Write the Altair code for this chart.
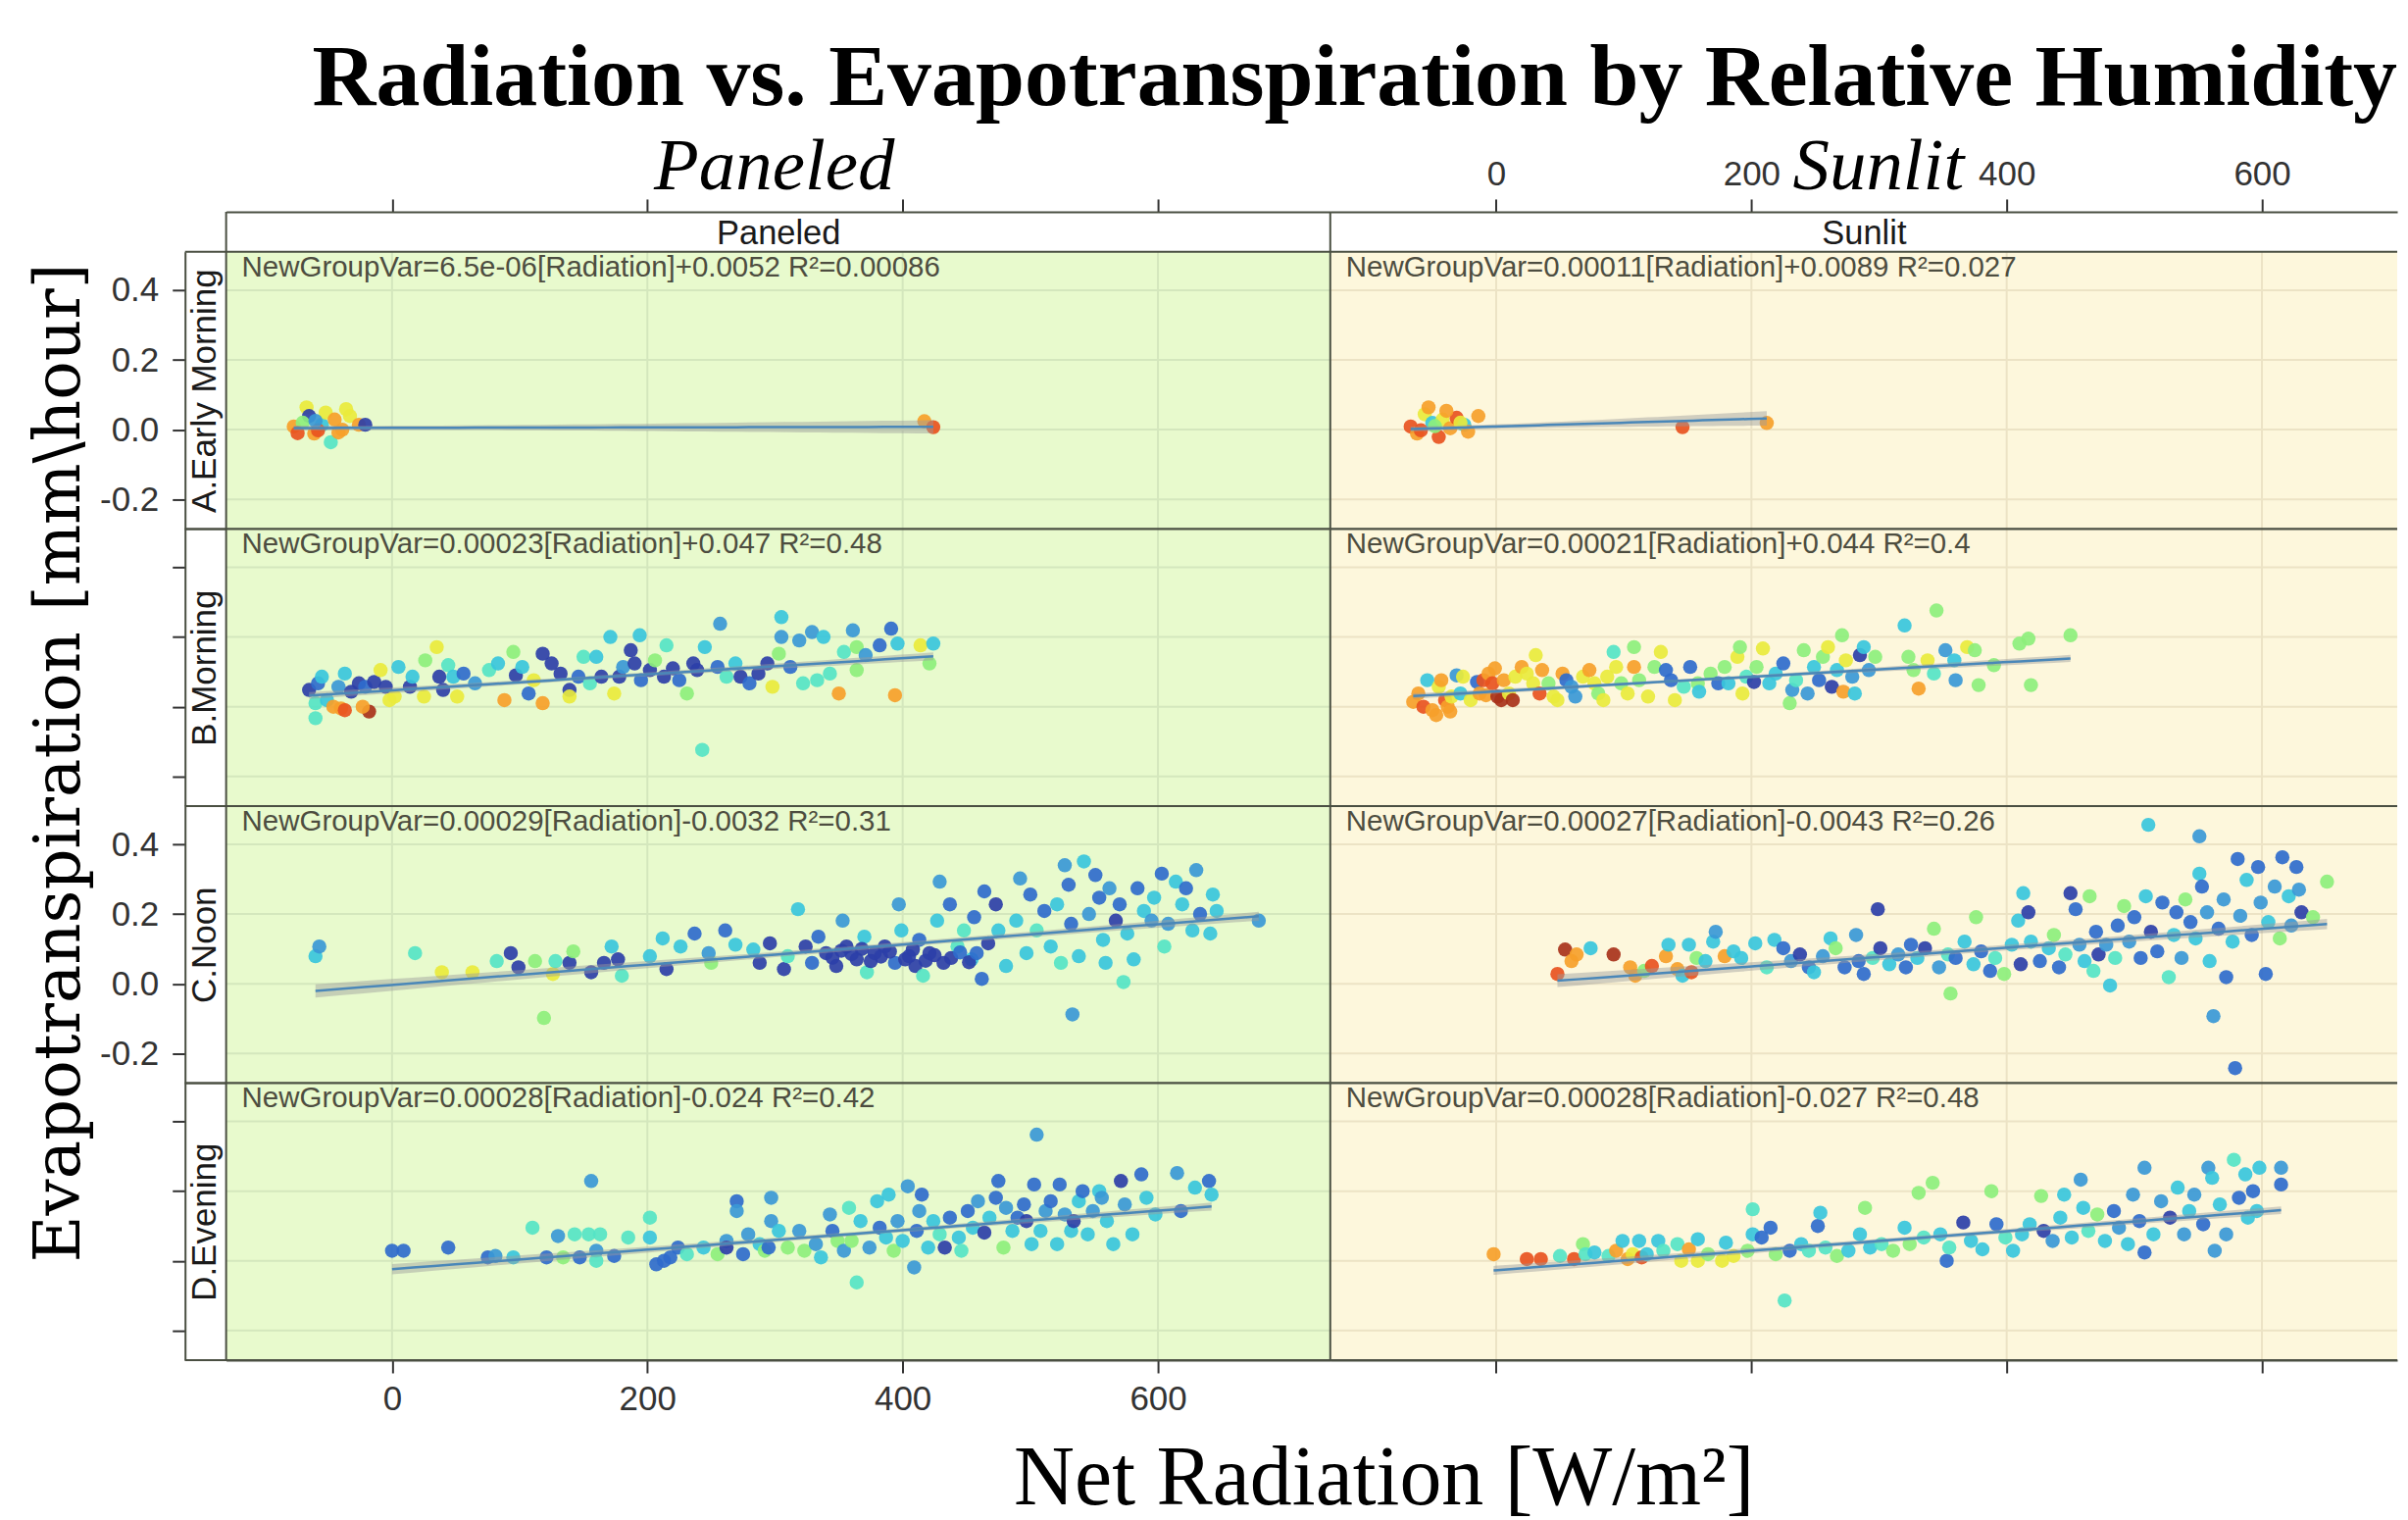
import altair as alt
import numpy as np
import pandas as pd

# ---------------- text ----------------
TITLE = "Radiation vs. Evapotranspiration by Relative Humidity"
X_TITLE = "Net Radiation [W/m²]"
Y_TITLE = "Evapotranspiration [mm\\hour]"
COLUMNS = ["Paneled", "Sunlit"]
ROWS = ["A.Early Morning", "B.Morning", "C.Noon", "D.Evening"]
X_TICKS = [0, 200, 400, 600]
Y_TICKS = [-0.2, 0.0, 0.2, 0.4]

# regression coefficients shown in each panel  [row][column]
SLOPES = [[6.5e-06, 0.00011], [0.00023, 0.00021], [0.00029, 0.00027], [0.00028, 0.00028]]
INTERCEPTS = [[0.0052, 0.0089], [0.047, 0.044], [-0.0032, -0.0043], [-0.024, -0.027]]
R2 = [[0.00086, 0.027], [0.48, 0.4], [0.31, 0.26], [0.42, 0.48]]
# each plotted dot stands for several overplotted observations
OBS_PER_DOT = 4

# relative humidity colour stops (jet-like)
RH_STOPS = [35, 40, 45, 50, 55, 62, 70, 78, 85, 92]
JET = ["#2c3fa8", "#2f6bcc", "#3a98d6", "#38c5dc", "#55e4c6",
       "#8def7c", "#e9ea3c", "#f6a02a", "#e8521f", "#a8321a"]

# ---------------- data: (net radiation, evapotranspiration, relative humidity) ----------------
A_PANELED = [(-77, .009, 78), (-67, .064, 70), (-65, .039, 35), (-61, -.011, 78), (-55, .014, 50),
             (-52, .049, 70), (-48, -.036, 55), (-45, .029, 78), (-39, 0, 78), (-33, .039, 70),
             (-26, .014, 78), (-21, .014, 35), (-70, .02, 62), (-58, -.002, 85), (-36, .059, 70),
             (-74, -.01, 85), (-42, -.008, 78), (-60, .025, 45), (417, .024, 78), (424, .007, 85)]

A_SUNLIT = [(-67, .009, 85), (-62, -.011, 78), (-56, .044, 70), (-53, .064, 78), (-50, .019, 50),
            (-45, -.021, 85), (-42, .029, 70), (-36, .004, 78), (-31, .034, 85), (-25, .014, 50),
            (-22, -.006, 78), (-14, .039, 78), (-59, -.002, 85), (-39, .054, 78), (-48, .01, 62),
            (-28, .02, 70), (146, .007, 85), (212, .019, 78)]

B_PANELED = [(-65, .048, 35), (-58, .067, 40), (-55, .086, 50), (-60, .010, 55), (-60, -.033, 55),
             (-51, .019, 50), (-46, 0, 78), (-40, -.005, 78), (-37, -.010, 85), (-42, .057, 45),
             (-37, .095, 50), (-32, .043, 35), (-26, .067, 35), (-21, .057, 40), (-18, -.014, 92),
             (-14, .071, 35), (-23, 0, 78), (-9, .105, 70), (-5, .057, 35), (-2, .019, 70),
             (5, .114, 50), (2, .029, 70), (14, .057, 35), (16, .086, 50), (26, .133, 62),
             (25, .029, 70), (35, .171, 70), (37, .086, 35), (40, .048, 35), (44, .119, 55),
             (48, .086, 50), (51, .029, 70), (56, .095, 40), (65, .067, 45), (76, .105, 55),
             (83, .124, 50), (88, .019, 78), (95, .157, 62), (97, .090, 35), (102, .114, 50),
             (107, .038, 40), (111, .076, 70), (118, .010, 78), (118, .152, 35), (125, .124, 35),
             (132, .095, 35), (139, .048, 35), (139, .029, 70), (146, .086, 40), (150, .143, 55),
             (155, .067, 55), (160, .143, 50), (164, .086, 35), (171, .2, 50), (174, .038, 70),
             (178, .086, 35), (181, .114, 45), (187, .162, 35), (190, .124, 35), (194, .205, 50),
             (195, .076, 40), (202, .105, 35), (206, .133, 62), (213, .086, 35), (215, .176, 55),
             (220, .110, 35), (225, .076, 40), (231, .038, 62), (236, .124, 35), (239, .105, 35),
             (245, .171, 50), (243, -.124, 55), (255, .114, 40), (257, .238, 45), (262, .086, 55),
             (269, .124, 50), (273, .086, 35), (280, .067, 40), (287, .095, 35), (294, .124, 35),
             (298, .057, 70), (303, .152, 62), (305, .2, 45), (305, .257, 50), (312, .114, 40),
             (319, .190, 45), (322, .067, 55), (329, .214, 45), (333, .076, 55), (338, .2, 50),
             (343, .095, 55), (350, .038, 78), (354, .157, 55), (361, .219, 45), (364, .171, 62),
             (364, .105, 62), (371, .148, 45), (382, .176, 40), (391, .224, 40), (396, .181, 50),
             (394, .033, 78), (414, .176, 70), (424, .181, 50), (421, .124, 62)]

B_SUNLIT = [(-65, .014, 78), (-61, .038, 78), (-57, 0, 85), (-54, .076, 50), (-50, -.010, 78),
            (-47, -.024, 78), (-45, .057, 70), (-43, .076, 78), (-40, .019, 85), (-38, 0, 78),
            (-36, -.014, 78), (-35, .029, 70), (-31, .090, 45), (-28, .038, 50), (-26, .086, 70),
            (-20, .019, 70), (-15, .071, 40), (-13, .038, 78), (-10, .076, 85), (-8, .033, 78),
            (-6, .095, 78), (-3, .067, 85), (-1, .110, 78), (1, .029, 92), (4, .019, 92),
            (6, .076, 78), (10, .038, 70), (13, .019, 92), (15, .086, 70), (20, .114, 78),
            (24, .095, 70), (29, .067, 70), (31, .148, 70), (34, .038, 85), (36, .105, 78),
            (41, .067, 62), (45, .029, 70), (48, .019, 70), (52, .095, 78), (55, .076, 40),
            (59, .057, 45), (62, .029, 45), (68, .086, 70), (73, .105, 78), (77, .067, 70),
            (80, .038, 62), (84, .019, 70), (87, .086, 70), (92, .157, 55), (94, .114, 70),
            (98, .067, 62), (103, .038, 70), (108, .171, 62), (108, .114, 78), (112, .076, 62),
            (119, .029, 70), (124, .114, 62), (129, .157, 70), (133, .105, 40), (137, .076, 40),
            (140, .019, 70), (147, .057, 55), (152, .114, 40), (158, .067, 62), (159, .043, 50),
            (168, .095, 62), (174, .067, 40), (179, .114, 62), (182, .067, 50), (189, .143, 70),
            (191, .171, 62), (193, .038, 70), (196, .086, 55), (202, .071, 35), (204, .114, 62),
            (209, .167, 70), (214, .067, 50), (219, .095, 50), (225, .124, 40), (230, .010, 62),
            (232, .048, 45), (235, .076, 55), (241, .162, 62), (244, .038, 45), (249, .114, 50),
            (253, .076, 40), (256, .143, 62), (260, .171, 70), (263, .057, 35), (267, .105, 50),
            (271, .205, 62), (272, .043, 78), (274, .133, 70), (279, .086, 45), (281, .038, 50),
            (285, .148, 35), (288, .171, 50), (292, .105, 45), (297, .143, 62), (320, .233, 50),
            (323, .143, 62), (327, .105, 62), (331, .052, 78), (338, .133, 70), (343, .095, 55),
            (345, .276, 62), (352, .162, 45), (359, .133, 50), (360, .076, 45), (369, .171, 70),
            (375, .162, 62), (378, .062, 62), (390, .119, 62), (410, .181, 62), (417, .195, 62),
            (419, .062, 62), (450, .205, 62)]

C_PANELED = [(-60, .079, 50), (-57, .107, 45), (18, .088, 55), (39, .033, 70), (63, .033, 70),
             (82, .065, 55), (93, .088, 35), (99, .047, 35), (112, .065, 62), (119, -.098, 62),
             (126, .028, 70), (128, .065, 55), (139, .060, 35), (142, .093, 62), (156, .033, 35),
             (166, .060, 35), (172, .107, 50), (177, .070, 35), (180, .023, 55), (202, .079, 50),
             (212, .130, 50), (215, .042, 35), (226, .107, 50), (237, .144, 40), (250, .060, 62),
             (248, .088, 45), (261, .153, 40), (269, .112, 50), (283, .098, 50), (288, .060, 35),
             (296, .116, 35), (307, .042, 35), (310, .079, 55), (318, .214, 50), (324, .107, 35),
             (329, .060, 40), (334, .135, 40), (340, .088, 35), (348, .051, 35), (353, .181, 45),
             (356, .107, 35), (364, .070, 35), (370, .135, 50), (372, .033, 55), (378, .088, 35),
             (386, .107, 35), (394, .060, 40), (397, .228, 45), (399, .153, 50), (405, .079, 35),
             (410, .051, 35), (413, .126, 40), (416, .023, 55), (421, .088, 35), (427, .181, 50),
             (429, .293, 45), (432, .060, 35), (437, .228, 40), (443, .107, 55), (448, .153, 55),
             (454, .070, 50), (456, .191, 40), (462, .014, 40), (464, .265, 40), (467, .116, 35),
             (473, .228, 35), (475, .153, 50), (481, .051, 50), (489, .181, 50), (492, .302, 45),
             (497, .088, 50), (500, .256, 40), (505, .153, 55), (511, .209, 40), (516, .107, 50),
             (521, .228, 50), (524, .060, 55), (527, .340, 45), (530, .284, 40), (532, .172, 40),
             (533, -.088, 45), (538, .079, 50), (542, .351, 50), (546, .2, 45), (551, .312, 40),
             (554, .247, 40), (557, .126, 50), (559, .060, 50), (562, .274, 45), (567, .181, 35),
             (570, .228, 40), (573, .005, 55), (576, .144, 50), (581, .070, 50), (584, .274, 40),
             (589, .209, 50), (595, .181, 45), (597, .247, 50), (603, .316, 40), (605, .107, 55),
             (608, .172, 45), (614, .293, 50), (619, .228, 50), (622, .274, 40), (627, .153, 50),
             (630, .326, 45), (633, .2, 40), (641, .144, 50), (643, .256, 50), (646, .209, 50),
             (679, .181, 45), (345, .075, 35), (352, .095, 35), (360, .085, 35), (368, .1, 35),
             (375, .065, 35), (383, .078, 35), (390, .092, 35), (402, .07, 35), (408, .098, 35),
             (418, .066, 35), (425, .082, 35), (438, .074, 35), (445, .09, 40), (452, .062, 35),
             (458, .088, 40)]

C_SUNLIT = [(48, .028, 85), (54, .098, 92), (59, .065, 78), (63, .084, 78), (74, .102, 50),
            (92, .084, 92), (105, .047, 78), (109, .023, 78), (116, .037, 62), (122, .051, 85),
            (133, .079, 78), (135, .112, 50), (142, .042, 78), (146, .023, 50), (151, .112, 50),
            (153, .033, 85), (157, .074, 62), (164, .065, 50), (170, .121, 50), (172, .149, 45),
            (179, .079, 78), (186, .093, 50), (192, .074, 50), (203, .116, 50), (212, .047, 55),
            (218, .126, 50), (225, .102, 40), (231, .065, 45), (238, .084, 35), (245, .047, 40),
            (249, .033, 50), (256, .079, 45), (262, .130, 50), (266, .102, 62), (273, .047, 40),
            (282, .140, 45), (284, .065, 40), (288, .028, 40), (295, .074, 55), (299, .214, 35),
            (301, .102, 35), (308, .056, 50), (315, .084, 45), (321, .047, 40), (325, .112, 40),
            (330, .074, 50), (336, .102, 35), (343, .158, 62), (347, .047, 45), (354, .084, 55),
            (356, -.028, 62), (360, .074, 40), (367, .121, 50), (374, .056, 50), (376, .191, 62),
            (380, .093, 40), (387, .037, 40), (391, .074, 55), (398, .028, 62), (404, .112, 50),
            (409, .181, 50), (411, .056, 35), (413, .260, 50), (417, .205, 35), (419, .121, 50),
            (426, .065, 40), (433, .102, 50), (437, .140, 62), (441, .047, 40), (446, .084, 55),
            (450, .260, 35), (454, .214, 40), (457, .112, 45), (461, .065, 50), (465, .251, 62),
            (468, .037, 55), (470, .149, 40), (472, .084, 35), (478, .112, 45), (481, -.005, 50),
            (485, .074, 55), (487, .167, 40), (492, .223, 62), (496, .121, 45), (500, .191, 40),
            (505, .074, 40), (509, .251, 50), (511, .456, 50), (513, .149, 35), (518, .093, 40),
            (522, .233, 40), (527, .019, 55), (531, .140, 50), (533, .205, 40), (537, .074, 45),
            (540, .242, 62), (544, .177, 40), (548, .130, 50), (551, .423, 45), (551, .316, 50),
            (553, .279, 40), (557, .205, 45), (559, .065, 50), (562, -.093, 45), (566, .158, 40),
            (570, .242, 45), (572, .019, 40), (577, .121, 50), (579, -.242, 40), (581, .358, 40),
            (583, .195, 45), (588, .298, 50), (592, .140, 40), (597, .335, 40), (599, .233, 45),
            (603, .028, 40), (605, .177, 50), (610, .279, 45), (614, .130, 62), (616, .363, 40),
            (621, .251, 50), (623, .167, 45), (627, .335, 40), (629, .270, 45), (631, .205, 35),
            (640, .191, 62), (651, .293, 62)]

D_PANELED = [(0, .029, 40), (9, .029, 40), (44, .038, 40), (75, .010, 40), (81, .014, 45),
             (95, .010, 50), (110, .095, 55), (121, .010, 40), (130, .071, 45), (134, .010, 62),
             (143, .076, 55), (147, .010, 40), (154, .076, 55), (156, .229, 45), (160, .029, 45),
             (160, 0, 55), (163, .076, 55), (174, .014, 40), (185, .067, 55), (202, .124, 55),
             (202, .067, 50), (207, -.010, 40), (213, 0, 40), (218, .010, 40), (224, .038, 40),
             (231, .019, 55), (244, .038, 50), (255, .019, 62), (262, .057, 45), (262, .038, 35),
             (270, .171, 40), (270, .143, 45), (275, .019, 40), (279, .076, 45), (288, .048, 50),
             (292, .029, 62), (295, .038, 40), (297, .114, 45), (297, .181, 45), (303, .086, 50),
             (310, .038, 62), (319, .086, 45), (323, .029, 62), (332, .048, 45), (336, .010, 50),
             (343, .133, 45), (345, .086, 40), (349, .057, 62), (354, .029, 45), (358, .152, 55),
             (360, .057, 62), (364, -.062, 55), (367, .114, 50), (374, .038, 45), (380, .171, 50),
             (382, .095, 40), (387, .067, 50), (389, .190, 50), (393, .029, 62), (396, .114, 45),
             (400, .057, 50), (404, .214, 45), (409, -.019, 45), (411, .086, 40), (413, .143, 45),
             (415, .190, 40), (420, .038, 50), (424, .114, 50), (429, .076, 55), (433, .038, 35),
             (437, .124, 40), (444, .067, 50), (446, .029, 55), (451, .143, 40), (455, .095, 50),
             (459, .171, 45), (464, .081, 35), (468, .124, 50), (473, .181, 40), (475, .229, 40),
             (479, .038, 62), (481, .152, 45), (486, .086, 50), (490, .124, 40), (495, .162, 40),
             (497, .114, 35), (501, .048, 50), (503, .219, 40), (505, .362, 45), (508, .086, 50),
             (512, .143, 45), (516, .171, 40), (521, .048, 50), (523, .219, 40), (527, .133, 45),
             (532, .086, 50), (534, .114, 35), (538, .171, 50), (541, .2, 40), (545, .076, 50),
             (549, .143, 45), (554, .2, 50), (556, .181, 45), (560, .114, 50), (565, .048, 50),
             (571, .229, 35), (574, .162, 45), (580, .076, 50), (587, .248, 40), (591, .181, 50),
             (598, .133, 50), (615, .252, 45), (618, .143, 40), (629, .210, 50), (640, .229, 40),
             (642, .190, 50)]

D_SUNLIT = [(-2, .019, 78), (24, .005, 85), (35, .005, 85), (50, .014, 55), (61, .005, 85),
            (68, .048, 62), (70, .019, 55), (77, .024, 50), (88, .014, 55), (94, .029, 78),
            (99, .057, 50), (103, .005, 78), (107, .019, 70), (112, .057, 50), (114, .010, 85),
            (118, .019, 50), (127, .057, 50), (131, .029, 55), (142, .048, 55), (145, 0, 70),
            (151, .033, 78), (158, .062, 50), (158, 0, 70), (166, .019, 62), (177, 0, 70),
            (180, .052, 50), (186, .014, 70), (197, .029, 62), (201, .148, 55), (201, .076, 50),
            (208, .067, 40), (215, .095, 40), (219, .019, 62), (226, -.114, 55), (230, .029, 40),
            (239, .048, 50), (245, .029, 55), (252, .1, 40), (254, .138, 50), (258, .038, 55),
            (267, .014, 62), (276, .029, 50), (285, .076, 50), (289, .152, 62), (293, .038, 50),
            (302, .048, 55), (311, .029, 62), (320, .095, 50), (324, .048, 62), (331, .195, 62),
            (335, .067, 55), (342, .224, 62), (348, .076, 50), (353, 0, 40), (355, .038, 55),
            (366, .110, 35), (372, .057, 50), (381, .033, 50), (388, .2, 62), (392, .105, 40),
            (399, .067, 55), (405, .029, 50), (412, .076, 50), (418, .105, 50), (427, .186, 62),
            (429, .086, 35), (436, .057, 45), (442, .124, 50), (445, .190, 50), (451, .067, 50),
            (458, .233, 45), (460, .152, 50), (464, .086, 55), (471, .133, 62), (477, .057, 50),
            (484, .143, 40), (488, .095, 45), (495, .048, 50), (499, .190, 45), (504, .114, 40),
            (508, .267, 45), (508, .024, 40), (515, .076, 50), (521, .171, 45), (528, .124, 35),
            (534, .210, 50), (539, .076, 45), (543, .143, 50), (547, .190, 45), (554, .105, 40),
            (558, .267, 45), (561, .238, 50), (563, .029, 45), (567, .162, 50), (572, .076, 45),
            (578, .290, 55), (582, .181, 40), (587, .248, 50), (589, .124, 50), (593, .2, 40),
            (596, .143, 50), (598, .267, 50), (615, .267, 45), (615, .219, 40)]

PANEL_DATA = [[A_PANELED, A_SUNLIT], [B_PANELED, B_SUNLIT],
              [C_PANELED, C_SUNLIT], [D_PANELED, D_SUNLIT]]

# ---------------- layout / style ----------------
W = [1128, 1090]
H = 283
STRIP_W = 42
STRIP_H = 41
X_DOMAIN = [[-130, 735], [-130, 706]]
Y_DOMAIN = [-0.285, 0.51]
BG = ["#e8facd", "#fdf7dc"]
GRID = ["#d4e7bd", "#ece3c5"]
BORDER = "#4a4f42"
ANN_COLOR = "#4d4d40"
SANS = "Liberation Sans"
SERIF = "Liberation Serif"
ONE = pd.DataFrame({"k": [0]})


def fmt_label(a, b, r2):
    sign = "+" if b >= 0 else ""
    return f"NewGroupVar={a}[Radiation]{sign}{b} R²={r2}"


def text_layer(txt, x, y, **kw):
    return alt.Chart(pd.DataFrame({"t": [txt]})).mark_text(**kw).encode(
        x=alt.value(x), y=alt.value(y), text="t:N")


def rule_layer(**enc):
    return alt.Chart(ONE).mark_rule(color=BORDER, strokeWidth=2).encode(**enc)


def panel(r, c):
    w = W[c]
    df = pd.DataFrame(PANEL_DATA[r][c], columns=["Radiation", "ET", "RH"])
    xs = alt.Scale(domain=X_DOMAIN[c], nice=False, zero=False)
    ys = alt.Scale(domain=Y_DOMAIN, nice=False, zero=False)

    common = dict(tickColor="#333333", tickWidth=2, tickSize=13, domainColor=BORDER,
                  domainWidth=2, grid=False, labelFont=SANS, labelFontSize=35,
                  labelColor="#333333", labelFlush=False, labelOverlap=False, zindex=1)
    if r == 0:
        xaxis = alt.Axis(orient="top", offset=STRIP_H, values=X_TICKS, labels=(c == 1),
                         labelPadding=7, title=COLUMNS[c], titleX=w / 2, titleY=23,
                         titleAlign="center", titleBaseline="middle", titleAngle=0,
                         titleFont=SANS, titleFontSize=34.5, titleFontWeight="normal",
                         titleColor="#1a1a1a", **common)
    elif r == 3:
        xaxis = alt.Axis(orient="bottom", values=X_TICKS, labels=(c == 0), labelPadding=10,
                         title=None, **common)
    else:
        xaxis = None
    if c == 0:
        yaxis = alt.Axis(orient="left", offset=STRIP_W, values=Y_TICKS, labels=(r in (0, 2)),
                         labelPadding=14,
                         labelExpr="datum.value < 0 ? '-' + format(-datum.value, '.1f') : format(datum.value, '.1f')",
                         title=ROWS[r], titleX=20, titleY=H / 2, titleAngle=270,
                         titleAlign="center", titleBaseline="middle", titleFont=SANS,
                         titleFontSize=35, titleFontWeight="normal", titleColor="#1a1a1a",
                         **common)
    else:
        yaxis = None

    bg = alt.Chart(ONE).mark_rect(color=BG[c]).encode(
        x=alt.value(0), x2=alt.value(w), y=alt.value(0), y2=alt.value(H))
    gx = alt.Chart(pd.DataFrame({"g": X_TICKS})).mark_rule(color=GRID[c], strokeWidth=2).encode(
        x=alt.X("g:Q", scale=xs, axis=xaxis))
    gy = alt.Chart(pd.DataFrame({"g": Y_TICKS})).mark_rule(color=GRID[c], strokeWidth=2).encode(
        y=alt.Y("g:Q", scale=ys, axis=yaxis))

    pts = alt.Chart(df).mark_circle(size=210, opacity=0.92).encode(
        x=alt.X("Radiation:Q", scale=xs, axis=xaxis),
        y=alt.Y("ET:Q", scale=ys, axis=yaxis),
        color=alt.Color("RH:Q", scale=alt.Scale(domain=RH_STOPS, range=JET), legend=None))

    # fitted line (coefficients from the panel) and its 95% confidence band
    a, b = SLOPES[r][c], INTERCEPTS[r][c]
    xv, yv = df["Radiation"].to_numpy(float), df["ET"].to_numpy(float)
    n = len(xv) * OBS_PER_DOT
    xbar = xv.mean()
    sxx = ((xv - xbar) ** 2).sum() * OBS_PER_DOT
    s = np.sqrt(((yv - (a * xv + b)) ** 2).sum() * OBS_PER_DOT / (n - 2))
    xg = np.linspace(xv.min(), xv.max(), 40)
    fit = a * xg + b
    half = 1.96 * s * np.sqrt(1 / n + (xg - xbar) ** 2 / sxx)
    bdf = pd.DataFrame({"Radiation": xg, "fit": fit, "lo": fit - half, "hi": fit + half})
    band = alt.Chart(bdf).mark_area(color="#9c9c9c", opacity=0.45).encode(
        x=alt.X("Radiation:Q", scale=xs, axis=xaxis),
        y=alt.Y("lo:Q", scale=ys, axis=yaxis), y2="hi:Q")
    line = alt.Chart(bdf).mark_line(color="#4a87b8", strokeWidth=2.5).encode(
        x=alt.X("Radiation:Q", scale=xs, axis=xaxis),
        y=alt.Y("fit:Q", scale=ys, axis=yaxis))

    ann = text_layer(fmt_label(a, b, R2[r][c]), 16, 16, align="left", baseline="middle",
                     font=SANS, fontSize=29.5, color=ANN_COLOR)

    left_ext = -STRIP_W if c == 0 else 0
    top_ext = -STRIP_H if r == 0 else 0
    borders = [
        rule_layer(x=alt.value(left_ext), x2=alt.value(w), y=alt.value(0)),
        rule_layer(x=alt.value(left_ext), x2=alt.value(w), y=alt.value(H)),
        rule_layer(x=alt.value(0), y=alt.value(top_ext), y2=alt.value(H)),
    ]

    extras = []
    if r == 0:
        extras.append(text_layer(COLUMNS[c], 560, -64, align="center", baseline="alphabetic",
                                 font=SERIF, fontStyle="italic", fontSize=75, color="#000000"))
    if r == 0 and c == 0:
        extras.append(text_layer(TITLE, 1153, -150, align="center", baseline="alphabetic",
                                 font=SERIF, fontWeight="bold", fontSize=90, color="#000000"))
        extras.append(text_layer(Y_TITLE, -170, 522, align="center", baseline="middle",
                                 angle=270, font="DejaVu Serif", fontSize=66, color="#000000"))
    if r == 3 and c == 0:
        extras.append(text_layer(X_TITLE, 1183, 430, align="center", baseline="alphabetic",
                                 font=SERIF, fontSize=86, color="#000000"))

    return alt.layer(bg, gx, gy, pts, band, line, ann, *borders, *extras).properties(
        width=w, height=H)


panels = [panel(r, c) for r in range(4) for c in range(2)]

chart = alt.concat(*panels, columns=2, spacing=0, bounds="flush", align="each").properties(
    padding={"left": 19, "top": 26, "right": 2, "bottom": 2},
    background="white",
).configure_view(strokeWidth=0)

chart.save("out.html", embed_options={"renderer": "svg", "actions": False})
